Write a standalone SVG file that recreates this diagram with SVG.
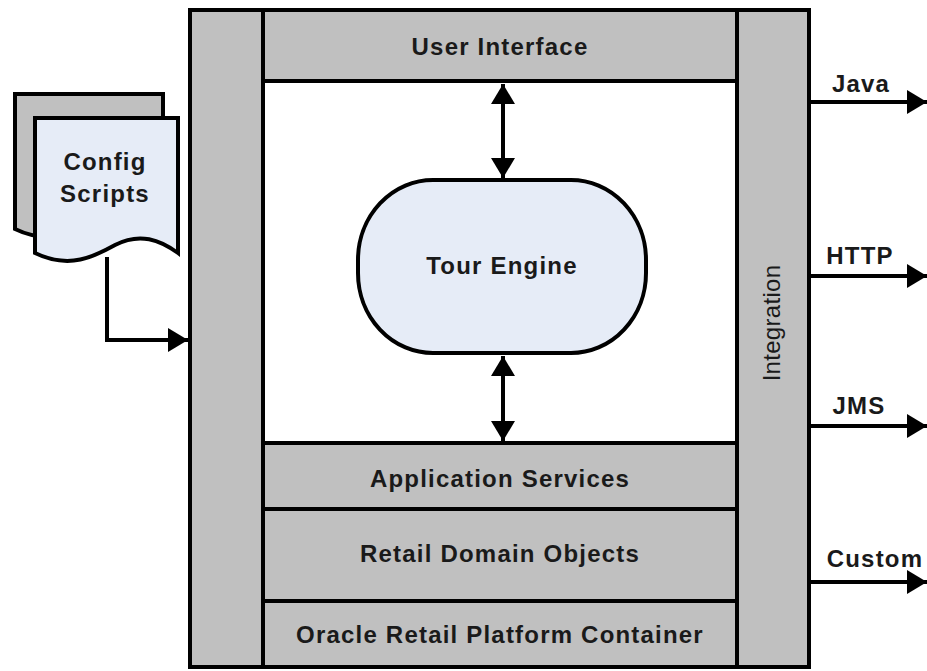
<svg xmlns="http://www.w3.org/2000/svg" width="927" height="671" viewBox="0 0 927 671">
<style>
.g{fill:#c0c0c0;stroke:#000;stroke-width:4}
.w{fill:#fff;stroke:#000;stroke-width:4}
.b{fill:#e6ecf7;stroke:#000;stroke-width:4}
.t{font-family:"Liberation Sans",Arial,sans-serif;font-weight:bold;font-size:24px;letter-spacing:1.2px;fill:#1a1a1a;text-anchor:middle}
.l{fill:none;stroke:#000;stroke-width:4}
</style>
<defs>
<marker id="ah" viewBox="0 0 20 24" refX="20" refY="12" markerWidth="20" markerHeight="24" markerUnits="userSpaceOnUse" orient="auto-start-reverse">
<path d="M0,0 L20,12 L0,24 Z" fill="#000"/>
</marker>
</defs>
<rect x="0" y="0" width="927" height="671" fill="#fff"/>
<g id="left-column"><rect class="g" x="190" y="10" width="73" height="657"/></g>
<g id="white-area"><rect class="w" x="263" y="81" width="474" height="362"/></g>
<g id="user-interface"><rect class="g" x="263" y="10" width="474" height="71"/><text class="t" x="500" y="55">User Interface</text></g>
<g id="application-services"><rect class="g" x="263" y="443" width="474" height="66"/><text class="t" x="500" y="487">Application Services</text></g>
<g id="retail-domain-objects"><rect class="g" x="263" y="509" width="474" height="92"/><text class="t" x="500" y="562">Retail Domain Objects</text></g>
<g id="oracle-retail-platform-container"><rect class="g" x="263" y="601" width="474" height="66"/><text class="t" x="500" y="643">Oracle Retail Platform Container</text></g>
<g id="integration"><rect class="g" x="737" y="10" width="72" height="657"/><text class="t" style="font-weight:normal;letter-spacing:0.3px" transform="translate(780,323) rotate(-90)">Integration</text></g>
<g id="tour-engine"><rect class="b" x="358" y="180" width="288" height="173" rx="75" ry="80"/><text class="t" x="502" y="274">Tour Engine</text></g>
<g id="config-scripts">
<path class="g" d="M15,94 H163 V229 C145,216 125,208 100,221 C80,232 50,246 15,229 Z"/>
<path class="b" d="M35,118 H178 V253 C160,240 140,232 115,245 C95,256 70,270 35,253 Z"/>
<text class="t" x="105" y="170">Config</text>
<text class="t" x="105" y="202">Scripts</text>
</g>
<g id="connectors">
<path class="l" d="M107,257 V340 H188" marker-end="url(#ah)"/>
<line class="l" x1="503" y1="84" x2="503" y2="178" marker-start="url(#ah)" marker-end="url(#ah)"/>
<line class="l" x1="503" y1="356" x2="503" y2="441" marker-start="url(#ah)" marker-end="url(#ah)"/>
<line class="l" x1="809" y1="102" x2="927" y2="102" marker-end="url(#ah)"/>
<line class="l" x1="809" y1="276" x2="927" y2="276" marker-end="url(#ah)"/>
<line class="l" x1="809" y1="426" x2="927" y2="426" marker-end="url(#ah)"/>
<line class="l" x1="809" y1="582" x2="927" y2="582" marker-end="url(#ah)"/>
<text class="t" x="861" y="92">Java</text>
<text class="t" x="860" y="264">HTTP</text>
<text class="t" x="859" y="414">JMS</text>
<text class="t" x="875" y="567">Custom</text>
</g>
</svg>
